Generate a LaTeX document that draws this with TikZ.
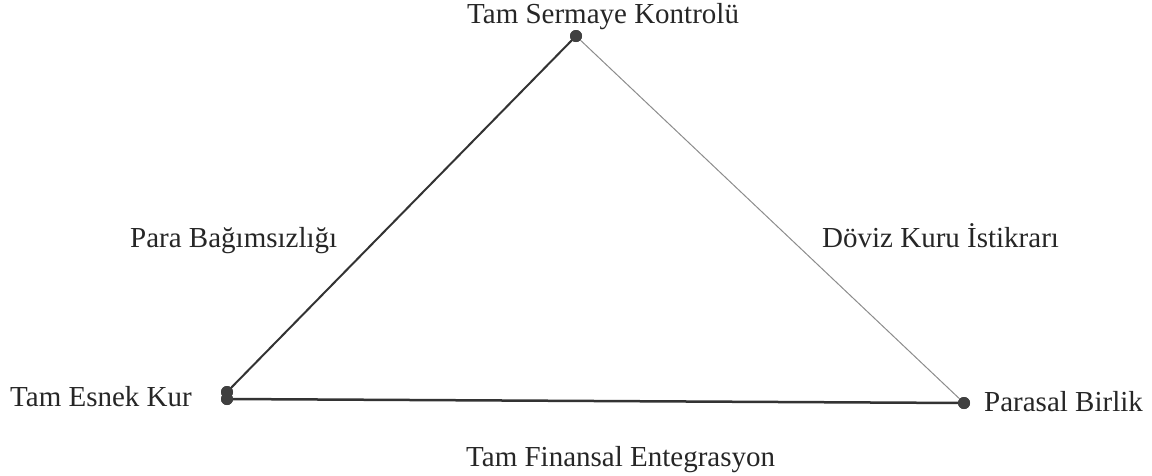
\documentclass[tikz,border=0pt]{standalone}
\usepackage{fontspec}
\setmainfont{Liberation Serif}
\begin{document}
\begin{tikzpicture}[x=1pt,y=-1pt,
  lbl/.style={anchor=base west,inner sep=0pt,font=\fontsize{29}{34}\selectfont,text=black!85},
  vdot/.style={circle,fill=black!75,inner sep=0pt,minimum size=12pt}]
\useasboundingbox (0,0) rectangle (1152,475);
\node[vdot] (T) at (576,36) {};
\node[vdot] (L) at (227,392) {};
\node[vdot] (L2) at (227,399) {};
\node[vdot] (R) at (964,403) {};
\draw[black!80,line width=2pt] (L.center) -- (T.center);
\draw[black!45,line width=1pt] (T.center) -- (R.center);
\draw[black!80,line width=2.5pt] (L2.center) -- (R.center);
\node[vdot] at (T) {};
\node[vdot] at (L) {};
\node[vdot] at (L2) {};
\node[vdot] at (R) {};
\node[lbl] (tt) at (467,23) {Tam Sermaye Kontrolü};
\node[lbl] (tl) at (10,406) {Tam Esnek Kur};
\node[lbl] (tr) at (984,411) {Parasal Birlik};
\node[lbl] (pb) at (130,247) {Para Bağımsızlığı};
\node[lbl] (dk) at (822,247) {Döviz Kuru İstikrarı};
\node[lbl] (tf) at (466,466) {Tam Finansal Entegrasyon};
\end{tikzpicture}
\end{document}
